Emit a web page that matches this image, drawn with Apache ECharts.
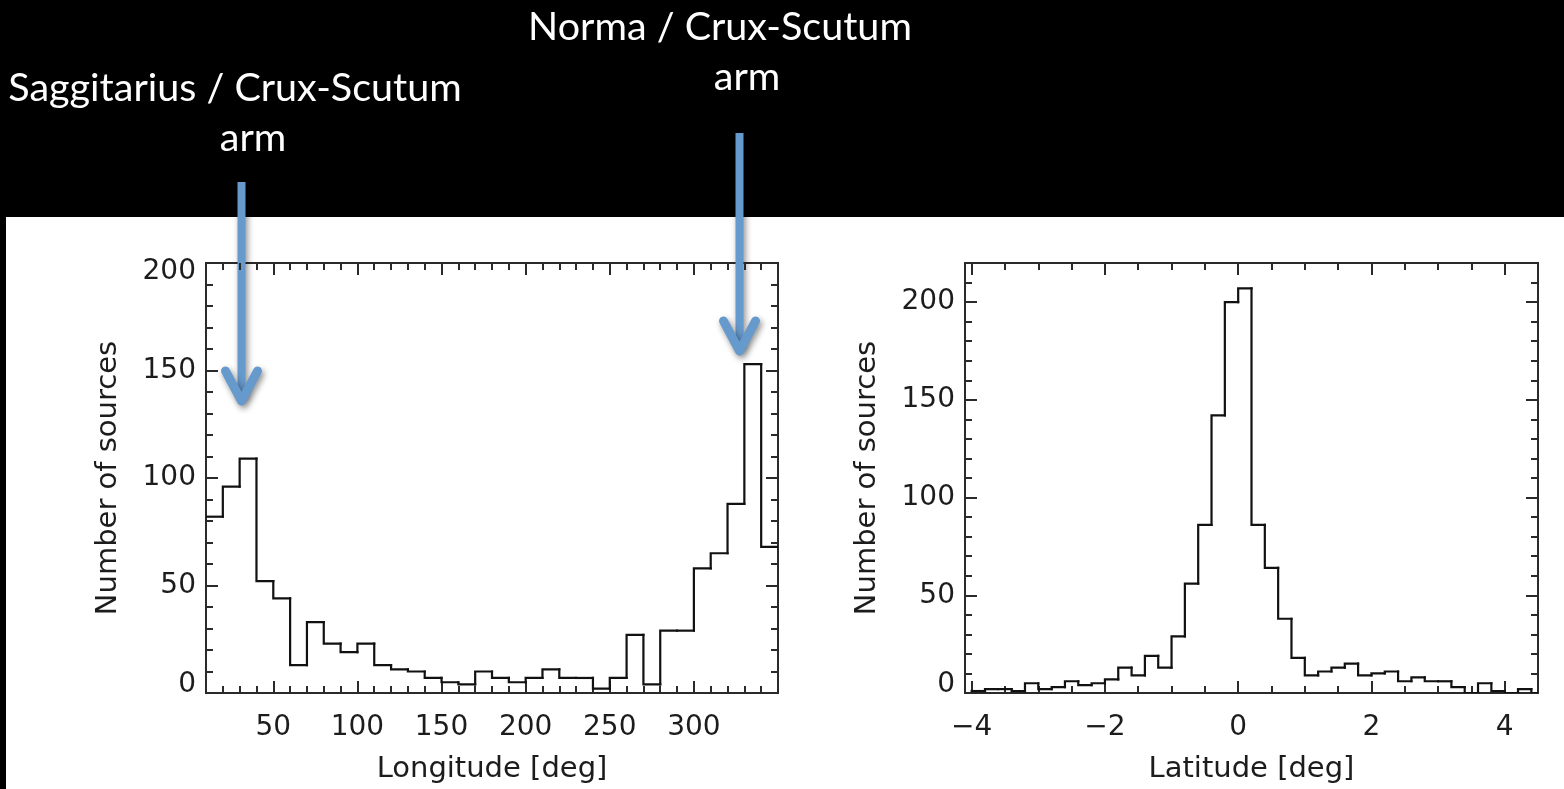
<!DOCTYPE html>
<html>
<head>
<meta charset="utf-8">
<script src="https://cdn.jsdelivr.net/npm/echarts@6/dist/echarts.min.js"></script>
<style>
  html, body { margin: 0; padding: 0; background: #000; }
  #chart { width: 1564px; height: 789px; }
</style>
</head>
<body>
<div id="chart"></div>
<script>
// Galactic longitude histogram: left edge of each 10-degree bin and the source count in it
const lonBinStarts = [10, 20, 30, 40, 50, 60, 70, 80, 90, 100, 110, 120, 130, 140, 150, 160, 170,
                      180, 190, 200, 210, 220, 230, 240, 250, 260, 270, 280, 290, 300, 310, 320, 330, 340];
const lonLastEdge = 350;
const lonCounts = [82, 96, 109, 52, 44, 13, 33, 23, 19, 23, 13, 11, 10, 7, 5, 4, 10,
                   7, 5, 7, 11, 7, 7, 2, 7, 27, 4, 29, 29, 58, 65, 88, 153, 68];

// Galactic latitude histogram: left edge of each 0.2-degree bin and the source count in it
const latBinStarts = [-4.0, -3.8, -3.6, -3.4, -3.2, -3.0, -2.8, -2.6, -2.4, -2.2, -2.0, -1.8, -1.6, -1.4,
                      -1.2, -1.0, -0.8, -0.6, -0.4, -0.2, 0.0, 0.2, 0.4, 0.6, 0.8, 1.0, 1.2, 1.4,
                      1.6, 1.8, 2.0, 2.2, 2.4, 2.6, 2.8, 3.0, 3.2, 3.4, 3.6, 3.8, 4.0, 4.2, 4.4];
const latLastEdge = 4.5;
const latCounts = [1, 2, 2, 1, 5, 2, 3, 6, 4, 5, 7, 13, 9, 19,
                   13, 29, 56, 86, 142, 200, 207, 86, 64, 38, 18, 9, 11, 13,
                   15, 9, 10, 11, 6, 8, 6, 6, 3, 0, 5, 1, 0, 2, 0];

// Labelled tick values
const lonXTicks = [50, 100, 150, 200, 250, 300];
const lonYTicks = [0, 50, 100, 150, 200];
const latXTicks = [-4, -2, 0, 2, 4];
const latYTicks = [0, 50, 100, 150, 200];

// Arm annotations
const annotations = [
  { lines: ['Saggitarius / Crux-Scutum', 'arm'] },
  { lines: ['Norma / Crux-Scutum', 'arm'] }
];

function steps(a, b, step) {
  const out = [];
  for (let v = a; v <= b + 1e-9; v += step) out.push(Math.round(v * 1000) / 1000);
  return out;
}

// One item per bin: [left edge, right edge, count, previous bin's count]
function binItems(starts, counts, lastEdge) {
  return starts.map((x, i) => [
    x,
    i + 1 < starts.length ? starts[i + 1] : lastEdge,
    counts[i],
    i === 0 ? counts[0] : counts[i - 1]
  ]);
}

const INK = '#1c1c1c';
const AXIS_FONT = '"DejaVu Sans", sans-serif';

// Four axes per side pair: labelled major, mirrored major, and minor ticks on both sides.
function frameAxes(grid, isX, min, max, majors, minors, name, nameGap, labelExtra) {
  const base = {
    type: 'value', gridIndex: grid, min: min, max: max,
    splitLine: { show: false },
    axisLine: { show: false, onZero: false }
  };
  const p1 = isX ? 'bottom' : 'left';
  const p2 = isX ? 'top' : 'right';
  const tickStyle = { color: '#2a2a2a', width: 2 };
  const major = Object.assign({}, base, {
    position: p1,
    name: name, nameLocation: 'middle', nameGap: nameGap,
    nameTextStyle: { fontFamily: AXIS_FONT, fontSize: 29, color: INK },
    axisTick: { show: true, inside: true, length: 12, customValues: majors, lineStyle: tickStyle },
    axisLabel: Object.assign({ show: true, customValues: majors, fontFamily: AXIS_FONT,
                               fontSize: 28, color: INK, margin: isX ? 21 : 10 }, labelExtra || {})
  });
  const majorMirror = Object.assign({}, base, {
    position: p2,
    axisTick: { show: true, inside: true, length: 12, customValues: majors, lineStyle: tickStyle },
    axisLabel: { show: false }
  });
  const minor = (pos) => Object.assign({}, base, {
    position: pos,
    axisTick: { show: true, inside: true, length: 7, customValues: minors, lineStyle: tickStyle },
    axisLabel: { show: false }
  });
  return [major, majorMirror, minor(p1), minor(p2)];
}

const minusFmt = v => String(v).replace('-', '\u2212');

const xAxes = [].concat(
  frameAxes(0, true, 10, 350, lonXTicks, steps(10, 350, 10), 'Longitude [deg]', 62),
  frameAxes(1, true, -4.1, 4.5, latXTicks, steps(-4, 4, 0.5), 'Latitude [deg]', 62,
            { formatter: minusFmt })
);

const yRich = {
  lo: { fontFamily: AXIS_FONT, fontSize: 28, color: INK, padding: [0, 0, 16, 0] },
  hi: { fontFamily: AXIS_FONT, fontSize: 28, color: INK, padding: [18, 0, 0, 0] }
};
const yAxes = [].concat(
  frameAxes(0, false, 0, 200, lonYTicks, steps(0, 200, 10), 'Number of sources', 83, {
    formatter: v => v === 0 ? '{lo|0}' : (v === 200 ? '{hi|200}' : String(v)), rich: yRich
  }),
  frameAxes(1, false, 0, 220, latYTicks, steps(0, 220, 10), 'Number of sources', 83, {
    formatter: v => v === 0 ? '{lo|0}' : String(v), rich: yRich
  })
);

// Histogram outline: vertical riser from the previous bin, then the bin's flat top
function renderBin(params, api) {
  const x0 = api.value(0), x1 = api.value(1), c = api.value(2), p = api.value(3);
  return {
    type: 'polyline',
    shape: { points: [api.coord([x0, p]), api.coord([x0, c]), api.coord([x1, c])] },
    style: { stroke: '#111111', lineWidth: 2.2, fill: null, lineCap: 'square', lineJoin: 'miter' }
  };
}

// Annotation text and arrows above the panels
const TEXT_FONT = '39.5px Lato, "Open Sans", sans-serif';
function arrow(x, yTop, yTip) {
  const shadow = { shadowColor: 'rgba(0,0,0,0.45)', shadowBlur: 6, shadowOffsetX: 2, shadowOffsetY: 3 };
  return {
    type: 'group',
    children: [
      { type: 'line', shape: { x1: x, y1: yTop, x2: x, y2: yTip - 4 },
        style: Object.assign({ stroke: '#6699cc', lineWidth: 8 }, shadow) },
      { type: 'polyline', shape: { points: [[x - 16, yTip - 30], [x, yTip], [x + 16, yTip - 30]] },
        style: Object.assign({ stroke: '#6699cc', lineWidth: 9, lineCap: 'round', lineJoin: 'round', fill: null }, shadow) }
    ]
  };
}
function label(text, x, y) {
  return { type: 'text', x: x, y: y,
           style: { text: text, fill: '#ffffff', font: TEXT_FONT, textAlign: 'center', textVerticalAlign: 'middle' } };
}

const option = {
  animation: false,
  backgroundColor: '#000000',
  graphic: [
    { type: 'rect', z: -100, silent: true, shape: { x: 6, y: 217, width: 1558, height: 572 },
      style: { fill: '#ffffff' } },
    label(annotations[0].lines[0], 235, 88),
    label(annotations[0].lines[1], 253, 138),
    label(annotations[1].lines[0], 720, 27),
    label(annotations[1].lines[1], 747, 77),
    arrow(241.5, 182, 401),
    arrow(739.5, 133, 351)
  ],
  grid: [
    { left: 206, top: 263, width: 572, height: 430, show: true, borderColor: '#2a2a2a', borderWidth: 2,
      backgroundColor: 'transparent' },
    { left: 965, top: 263, width: 573, height: 430, show: true, borderColor: '#2a2a2a', borderWidth: 2,
      backgroundColor: 'transparent' }
  ],
  xAxis: xAxes,
  yAxis: yAxes,
  series: [
    { type: 'custom', name: 'Longitude', xAxisIndex: 0, yAxisIndex: 0, clip: true,
      renderItem: renderBin, encode: { x: [0, 1], y: [2, 3] },
      data: binItems(lonBinStarts, lonCounts, lonLastEdge) },
    { type: 'custom', name: 'Latitude', xAxisIndex: 4, yAxisIndex: 4, clip: true,
      renderItem: renderBin, encode: { x: [0, 1], y: [2, 3] },
      data: binItems(latBinStarts, latCounts, latLastEdge) }
  ]
};

const chart = echarts.init(document.getElementById('chart'), null, { renderer: 'canvas' });
chart.setOption(option);
</script>
</body>
</html>
